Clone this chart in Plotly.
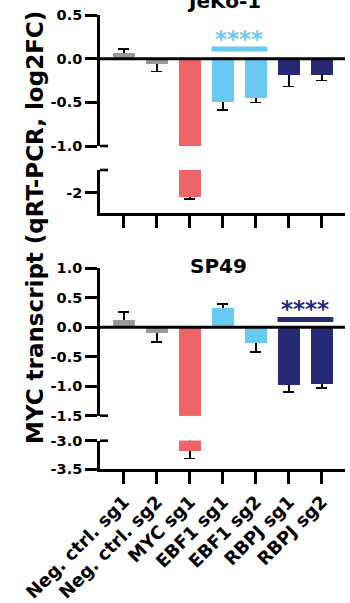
import plotly.graph_objects as go

# ---------------- data ----------------
categories = ["Neg. ctrl. sg1", "Neg. ctrl. sg2", "MYC sg1", "EBF1 sg1",
              "EBF1 sg2", "RBPJ sg1", "RBPJ sg2"]
bar_colors = ["#9a9a9a", "#9a9a9a", "#f06468", "#68c9f2", "#68c9f2", "#262a74", "#262a74"]

jeko_values = [0.065, -0.06, -2.05, -0.50, -0.445, -0.185, -0.19]
jeko_errors = [0.045, 0.085, 0.02, 0.09, 0.055, 0.135, 0.06]

sp49_values = [0.12, -0.11, -3.18, 0.32, -0.28, -0.98, -0.97]
sp49_errors = [0.14, 0.14, 0.13, 0.07, 0.14, 0.12, 0.06]

jeko_upper_ticks = [0.5, 0.0, -0.5, -1.0]
jeko_upper_labels = ["0.5", "0.0", "-0.5", "-1.0"]
jeko_lower_ticks = [-2]
jeko_lower_labels = ["-2"]
sp49_upper_ticks = [1.0, 0.5, 0.0, -0.5, -1.0, -1.5]
sp49_upper_labels = ["1.0", "0.5", "0.0", "-0.5", "-1.0", "-1.5"]
sp49_lower_ticks = [-3.0, -3.5]
sp49_lower_labels = ["-3.0", "-3.5"]

# significance: (label, first cat index, last cat index, bar level, star level, colour)
jeko_sig = [("****", 3, 4, 0.11, 0.22, "#68c9f2")]
sp49_sig = [("****", 5, 6, 0.13, 0.31, "#262a74")]

y_title = "MYC transcript (qRT-PCR, log2FC)"

# ---------------- layout helpers ----------------
W, H = 350, 603
FONT = "DejaVu Sans"


def px(x):
    return x / W


def py(y):
    return 1 - y / H


x_dom = [px(100), px(345)]
x_range = [-0.727, 6.7]
bar_w = 0.69

fig = go.Figure()


def add_bars(values, errors, xa, ya):
    out = [e if v >= 0 else abs(v) * 0.5 for v, e in zip(values, errors)]
    inn = [abs(v) * 0.5 if v >= 0 else e for v, e in zip(values, errors)]
    x = list(range(len(categories)))
    # bars carrying the error bars (inner half hidden by the cover bars)
    fig.add_trace(go.Bar(x=x, y=values, width=bar_w, xaxis=xa, yaxis=ya,
                         marker=dict(color=bar_colors, line=dict(width=0)),
                         error_y=dict(type="data", symmetric=False, array=out,
                                      arrayminus=inn, color="black",
                                      thickness=1.6, width=5.5),
                         showlegend=False, hoverinfo="skip"))
    fig.add_trace(go.Bar(x=x, y=values, width=bar_w, xaxis=xa, yaxis=ya,
                         marker=dict(color=bar_colors, line=dict(width=0)),
                         showlegend=False))


add_bars(jeko_values, jeko_errors, "x", "y")
add_bars(jeko_values, jeko_errors, "x", "y2")
add_bars(sp49_values, sp49_errors, "x2", "y3")
add_bars(sp49_values, sp49_errors, "x2", "y4")

axis_common = dict(showline=True, linecolor="black", linewidth=2.6,
                   ticks="outside", ticklen=12, tickwidth=2.6, tickcolor="black",
                   showgrid=False, zeroline=False, fixedrange=True,
                   tickfont=dict(family=FONT, size=14.5, color="black", weight="bold"))

xcommon = dict(axis_common)
xcommon.update(domain=x_dom, range=x_range, tickmode="array",
               tickvals=list(range(len(categories))), ticktext=categories,
               tickangle=-45,
               tickfont=dict(family=FONT, size=18, color="black", weight="bold"))

fig.update_layout(
    width=W, height=H, margin=dict(l=0, r=0, t=0, b=0),
    template="none", paper_bgcolor="white", plot_bgcolor="white",
    barmode="overlay", bargap=0,
    xaxis=dict(xcommon, anchor="y2", showticklabels=False),
    xaxis2=dict(xcommon, anchor="y4"),
    yaxis=dict(axis_common, domain=[py(146), py(15)], range=[-1.0, 0.5],
               anchor="x", tickmode="array", tickvals=jeko_upper_ticks,
               ticktext=jeko_upper_labels),
    yaxis2=dict(axis_common, domain=[py(213), py(170)], range=[-2.229, -1.737],
                anchor="x", tickmode="array", tickvals=jeko_lower_ticks,
                ticktext=jeko_lower_labels),
    yaxis3=dict(axis_common, domain=[py(415.7), py(268.3)], range=[-1.5, 1.0],
                anchor="x2", tickmode="array", tickvals=sp49_upper_ticks,
                ticktext=sp49_upper_labels),
    yaxis4=dict(axis_common, domain=[py(469.3), py(440.7)], range=[-3.5, -3.0],
                anchor="x2", tickmode="array", tickvals=sp49_lower_ticks,
                ticktext=sp49_lower_labels),
)

shapes = []
# zero lines
for xa, ya in [("x", "y"), ("x2", "y3")]:
    shapes.append(dict(type="line", xref=f"{xa} domain", yref=ya, x0=0, x1=1,
                       y0=0, y1=0, line=dict(color="black", width=3)))
# break marks (inner part of the tick at each broken end)
brk = 8 / 245
for ya, yv in [("y", 0), ("y2", 1), ("y3", 0), ("y4", 1)]:
    xa = "x" if ya in ("y", "y2") else "x2"
    shapes.append(dict(type="line", xref=f"{xa} domain", yref=f"{ya} domain",
                       x0=0, x1=brk, y0=yv, y1=yv,
                       line=dict(color="black", width=2.6)))

annotations = []
for sigs, xa, ya in [(jeko_sig, "x", "y"), (sp49_sig, "x2", "y3")]:
    for lab, a, b, lvl, star, col in sigs:
        shapes.append(dict(type="line", xref=xa, yref=ya,
                           x0=a - bar_w / 2, x1=b + bar_w / 2, y0=lvl, y1=lvl,
                           line=dict(color=col, width=5)))
        annotations.append(dict(text=lab, xref=xa, yref=ya, x=(a + b) / 2, y=star,
                                showarrow=False, xanchor="center", yanchor="middle",
                                font=dict(family=FONT, size=23, color=col, weight="bold")))

# panel titles
annotations.append(dict(text="JeKo-1", xref="paper", yref="paper", x=px(224), y=py(1),
                        showarrow=False, xanchor="center", yanchor="middle",
                        font=dict(family=FONT, size=20, color="black", weight="bold")))
annotations.append(dict(text="SP49", xref="paper", yref="paper", x=px(219), y=py(265.5),
                        showarrow=False, xanchor="center", yanchor="middle",
                        font=dict(family=FONT, size=20, color="black", weight="bold")))
# y axis title
annotations.append(dict(text=y_title, xref="paper", yref="paper", x=px(35), y=py(228),
                        showarrow=False, xanchor="center", yanchor="middle", textangle=-90,
                        font=dict(family=FONT, size=23, color="black", weight="bold")))

fig.update_layout(shapes=shapes, annotations=annotations)
fig.write_html("out.html")
